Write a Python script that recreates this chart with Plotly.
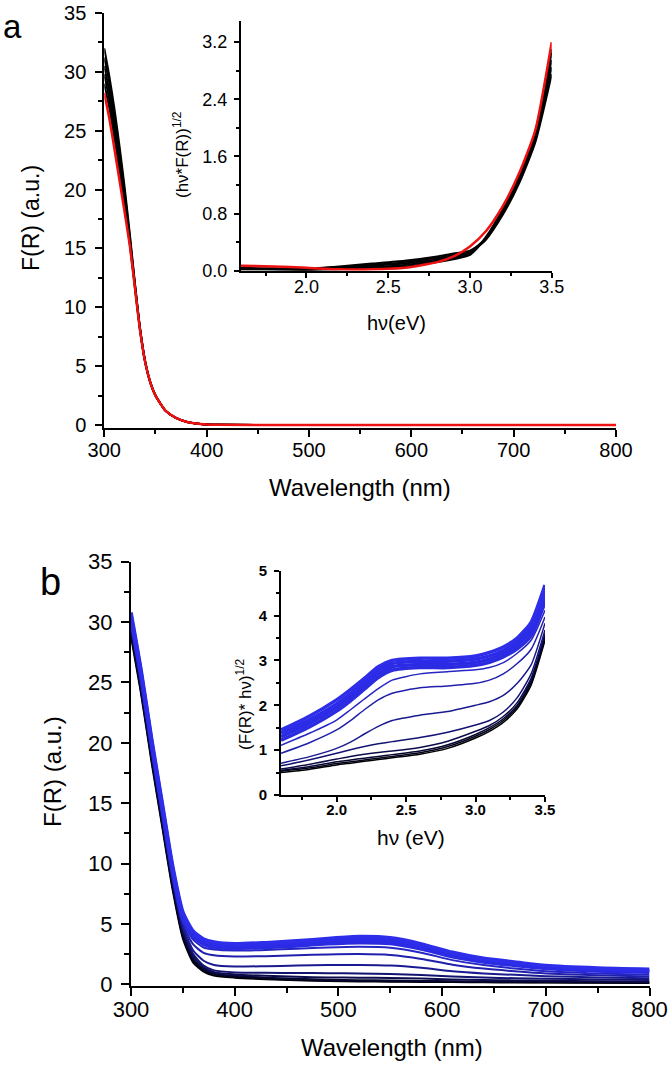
import plotly.graph_objects as go

# ---- panel a, main: F(R) vs wavelength ----
WL_A = [300, 305, 310, 315, 320, 325, 330, 335, 340, 345, 350, 360, 370, 380,
        390, 400, 410, 500, 600, 700, 800]
FR_A_BLACK = [
    [32.0, 29.6, 26.8, 23.6, 20.1, 16.2, 12.0, 8.2, 5.4, 3.6, 2.5, 1.2, 0.6, 0.28, 0.12, 0.05, 0.02, 0, 0, 0, 0],
    [31.2, 29.0, 26.2, 23.1, 19.7, 15.9, 11.9, 8.1, 5.4, 3.6, 2.5, 1.2, 0.6, 0.28, 0.12, 0.05, 0.02, 0, 0, 0, 0],
    [30.5, 28.3, 25.6, 22.6, 19.3, 15.7, 11.8, 8.1, 5.3, 3.6, 2.5, 1.2, 0.6, 0.28, 0.12, 0.05, 0.02, 0, 0, 0, 0],
    [29.8, 27.6, 25.0, 22.0, 18.9, 15.5, 11.7, 8.0, 5.3, 3.6, 2.5, 1.2, 0.6, 0.28, 0.12, 0.05, 0.02, 0, 0, 0, 0],
    [29.0, 26.9, 24.3, 21.5, 18.5, 15.3, 11.6, 8.0, 5.3, 3.6, 2.5, 1.2, 0.6, 0.28, 0.12, 0.05, 0.02, 0, 0, 0, 0],
]
FR_A_RED = [28.2, 26.0, 23.4, 20.7, 18.0, 15.2, 11.6, 8.0, 5.3, 3.6, 2.5, 1.2, 0.6,
            0.28, 0.12, 0.05, 0.02, 0, 0, 0, 0]

# ---- panel a, inset: Tauc plot ----
EV_A = [1.6, 1.8, 2.0, 2.2, 2.4, 2.6, 2.8, 2.9, 3.0, 3.1, 3.2, 3.3, 3.4, 3.5]
TAUC_A_BLACK = [
    [0.04, 0.03, 0.03, 0.06, 0.10, 0.14, 0.20, 0.24, 0.28, 0.45, 0.78, 1.22, 1.80, 2.75],
    [0.03, 0.03, 0.02, 0.05, 0.08, 0.12, 0.18, 0.22, 0.26, 0.44, 0.80, 1.25, 1.85, 2.85],
    [0.03, 0.02, 0.02, 0.04, 0.07, 0.10, 0.16, 0.20, 0.25, 0.45, 0.82, 1.28, 1.90, 2.95],
    [0.02, 0.02, 0.02, 0.03, 0.05, 0.08, 0.14, 0.18, 0.23, 0.46, 0.84, 1.30, 1.93, 3.05],
    [0.02, 0.02, 0.01, 0.02, 0.04, 0.06, 0.12, 0.16, 0.22, 0.48, 0.86, 1.32, 1.95, 3.10],
]
TAUC_A_RED = [0.07, 0.06, 0.04, 0.02, 0.02, 0.04, 0.12, 0.20, 0.34, 0.56, 0.90, 1.36, 1.97, 3.20]

# ---- panel b, main ----
WL_B = [300, 310, 320, 330, 340, 350, 360, 370, 380, 400, 430, 460, 490, 520,
        550, 580, 610, 640, 670, 700, 750, 800]
# drawn bottom (black) to top (bright blue)
FR_B = [
    [28.8, 23.9, 18.3, 13.1, 7.9, 3.8, 1.8, 1.05, 0.72, 0.55, 0.42, 0.33, 0.27, 0.24, 0.22, 0.20, 0.18, 0.16, 0.15, 0.14, 0.12, 0.10],
    [29.0, 24.1, 18.5, 13.3, 8.1, 4.0, 1.95, 1.15, 0.80, 0.62, 0.48, 0.38, 0.32, 0.28, 0.26, 0.23, 0.21, 0.19, 0.18, 0.17, 0.15, 0.13],
    [29.2, 24.3, 18.7, 13.5, 8.3, 4.2, 2.1, 1.25, 0.88, 0.70, 0.55, 0.45, 0.38, 0.34, 0.31, 0.28, 0.25, 0.23, 0.21, 0.20, 0.18, 0.16],
    [29.4, 24.5, 18.9, 13.7, 8.5, 4.4, 2.3, 1.4, 1.0, 0.82, 0.70, 0.62, 0.57, 0.55, 0.52, 0.47, 0.40, 0.36, 0.32, 0.30, 0.25, 0.22],
    [29.6, 24.7, 19.1, 13.9, 8.7, 4.6, 2.5, 1.55, 1.15, 0.98, 0.95, 0.93, 0.92, 0.90, 0.86, 0.76, 0.64, 0.56, 0.50, 0.46, 0.40, 0.35],
    [29.8, 24.9, 19.3, 14.1, 8.9, 4.8, 2.8, 1.95, 1.6, 1.47, 1.50, 1.55, 1.60, 1.60, 1.55, 1.36, 1.08, 0.90, 0.78, 0.67, 0.57, 0.50],
    [29.9, 25.0, 19.4, 14.2, 9.0, 5.0, 3.3, 2.6, 2.4, 2.30, 2.33, 2.40, 2.47, 2.50, 2.42, 2.10, 1.62, 1.30, 1.08, 0.90, 0.75, 0.65],
    [30.0, 25.1, 19.5, 14.3, 9.1, 5.2, 3.7, 3.05, 2.88, 2.80, 2.85, 2.95, 3.05, 3.10, 3.02, 2.62, 2.00, 1.60, 1.30, 1.08, 0.90, 0.80],
    [30.2, 25.3, 19.7, 14.5, 9.3, 5.4, 3.95, 3.3, 3.05, 2.98, 3.05, 3.18, 3.35, 3.45, 3.37, 2.92, 2.28, 1.85, 1.55, 1.30, 1.10, 1.00],
    [30.4, 25.5, 19.9, 14.7, 9.5, 5.6, 4.1, 3.45, 3.2, 3.10, 3.18, 3.32, 3.50, 3.62, 3.52, 3.05, 2.40, 1.95, 1.65, 1.38, 1.18, 1.08],
    [30.6, 25.7, 20.1, 14.9, 9.7, 5.8, 4.25, 3.6, 3.35, 3.22, 3.30, 3.45, 3.65, 3.78, 3.68, 3.20, 2.52, 2.05, 1.75, 1.47, 1.27, 1.17],
    [30.8, 25.9, 20.3, 15.1, 9.9, 6.0, 4.4, 3.75, 3.5, 3.35, 3.45, 3.60, 3.80, 3.95, 3.85, 3.35, 2.65, 2.15, 1.85, 1.55, 1.35, 1.25],
]

# ---- panel b, inset ----
EV_B = [1.6, 1.8, 2.0, 2.1, 2.2, 2.3, 2.4, 2.6, 2.8, 3.0, 3.1, 3.2, 3.3, 3.4, 3.5]
TAUC_B = [
    [0.50, 0.57, 0.67, 0.71, 0.75, 0.79, 0.83, 0.91, 1.04, 1.27, 1.42, 1.62, 1.92, 2.45, 3.45],
    [0.53, 0.60, 0.70, 0.74, 0.78, 0.82, 0.86, 0.94, 1.08, 1.31, 1.46, 1.66, 1.96, 2.50, 3.50],
    [0.55, 0.63, 0.74, 0.78, 0.82, 0.86, 0.90, 0.98, 1.12, 1.35, 1.50, 1.70, 2.00, 2.55, 3.55],
    [0.58, 0.68, 0.80, 0.86, 0.91, 0.95, 0.98, 1.06, 1.20, 1.42, 1.55, 1.75, 2.06, 2.60, 3.60],
    [0.65, 0.78, 0.93, 1.01, 1.08, 1.14, 1.19, 1.28, 1.40, 1.56, 1.66, 1.85, 2.17, 2.70, 3.68],
    [0.71, 0.85, 1.04, 1.18, 1.36, 1.53, 1.66, 1.78, 1.86, 2.00, 2.08, 2.22, 2.49, 2.90, 3.83],
    [0.93, 1.16, 1.45, 1.66, 1.90, 2.12, 2.27, 2.39, 2.43, 2.49, 2.56, 2.70, 2.93, 3.25, 3.97],
    [1.11, 1.37, 1.67, 1.90, 2.14, 2.37, 2.56, 2.70, 2.75, 2.79, 2.84, 2.95, 3.16, 3.45, 4.12],
    [1.22, 1.51, 1.87, 2.10, 2.36, 2.62, 2.78, 2.84, 2.84, 2.89, 2.96, 3.08, 3.26, 3.55, 4.30],
    [1.30, 1.59, 1.95, 2.18, 2.44, 2.70, 2.86, 2.91, 2.91, 2.96, 3.03, 3.15, 3.34, 3.65, 4.42],
    [1.38, 1.67, 2.03, 2.26, 2.52, 2.78, 2.93, 2.98, 2.98, 3.03, 3.10, 3.22, 3.42, 3.75, 4.55],
    [1.45, 1.75, 2.12, 2.35, 2.60, 2.86, 3.00, 3.05, 3.05, 3.10, 3.18, 3.30, 3.50, 3.85, 4.68],
]
COLORS_B = ["#000000", "#03031a", "#06062e", "#0c0c4c", "#131372", "#1a1a90",
            "#2020ac", "#2626c4", "#2b2be0", "#2b2be6", "#2c2ce8", "#2e2eea"]
WIDTH_B = [2, 2, 2, 2, 2, 2, 2, 2, 3.5, 3.5, 3.5, 3.5]
WIDTH_B_INSET = [1.5, 1.5, 1.5, 1.5, 1.5, 1.5, 1.5, 1.5, 3.5, 3.5, 3.5, 3.5]

W, H = 672, 1066
FONT = "Liberation Sans"


def px(x):
    return x / W


def py(y):
    return 1 - y / H


def axis_style(size, ticklen, minor_len, dtick, minor_dtick, rng, domain, anchor,
               bold=False, fmt=None, tick0=None, standoff=0):
    d = dict(
        range=rng, domain=domain, anchor=anchor, automargin=False,
        showline=True, linecolor="black", linewidth=2,
        ticks="outside", ticklen=ticklen, tickwidth=1.5, tickcolor="black",
        dtick=dtick, showgrid=False, zeroline=False, ticklabelstandoff=standoff,
        minor=dict(ticks="outside", ticklen=minor_len, tickwidth=1.5,
                   tickcolor="black", dtick=minor_dtick, showgrid=False),
        tickfont=dict(family=FONT, size=size, color="black",
                      weight="bold" if bold else "normal"),
    )
    if fmt:
        d["tickformat"] = fmt
    if tick0 is not None:
        d["tick0"] = tick0
    return d


fig = go.Figure()

for ys in FR_A_BLACK:
    fig.add_trace(go.Scatter(x=WL_A, y=ys, mode="lines", xaxis="x", yaxis="y",
                             line=dict(color="black", width=2, shape="spline", smoothing=0.6)))
fig.add_trace(go.Scatter(x=WL_A, y=FR_A_RED, mode="lines", xaxis="x", yaxis="y",
                         line=dict(color="#ee1111", width=2.5, shape="spline", smoothing=0.6)))

for ys in TAUC_A_BLACK:
    fig.add_trace(go.Scatter(x=EV_A, y=ys, mode="lines", xaxis="x2", yaxis="y2",
                             line=dict(color="black", width=2, shape="spline", smoothing=0.6)))
fig.add_trace(go.Scatter(x=EV_A, y=TAUC_A_RED, mode="lines", xaxis="x2", yaxis="y2",
                         line=dict(color="#ee1111", width=2.5, shape="spline", smoothing=0.6)))

for ys, c, w in zip(FR_B, COLORS_B, WIDTH_B):
    fig.add_trace(go.Scatter(x=WL_B, y=ys, mode="lines", xaxis="x3", yaxis="y3",
                             line=dict(color=c, width=w, shape="spline", smoothing=0.6)))

for ys, c, w in zip(TAUC_B, COLORS_B, WIDTH_B_INSET):
    fig.add_trace(go.Scatter(x=EV_B, y=ys, mode="lines", xaxis="x4", yaxis="y4",
                             line=dict(color=c, width=w, shape="spline", smoothing=0.6)))

fig.update_layout(
    width=W, height=H, showlegend=False, template="none",
    margin=dict(l=0, r=0, t=0, b=0),
    paper_bgcolor="white", plot_bgcolor="rgba(0,0,0,0)",
    font=dict(family=FONT, color="black"),
    xaxis=axis_style(20, 7, 4, 100, 50, [300, 800], [px(104.3), px(616)], "y", standoff=-4),
    yaxis=axis_style(20, 7, 4, 5, 2.5, [-0.23, 35], [py(427.7), py(13)], "x", standoff=5),
    xaxis2=axis_style(18, 5, 3, 0.5, 0.25, [1.6, 3.5], [px(241), px(551.7)], "y2",
                      fmt=".1f", tick0=2.0, standoff=-6),
    yaxis2=axis_style(18, 5, 3, 0.8, 0.4, [0, 3.5], [py(270.7), py(20.7)], "x2",
                      fmt=".1f", standoff=3),
    xaxis3=axis_style(22, 8, 5, 100, 50, [300, 800], [px(131), px(649.5)], "y3", standoff=-5),
    yaxis3=axis_style(22, 8, 5, 5, 2.5, [-0.1, 35], [py(985.5), py(561.7)], "x3", standoff=4),
    xaxis4=axis_style(15, 5, 3, 0.5, 0.25, [1.6, 3.5], [px(281), px(545)], "y4",
                      bold=True, fmt=".1f", tick0=2.0, standoff=-5),
    yaxis4=axis_style(15, 5, 3, 1, 0.5, [0, 5], [py(795), py(570.7)], "x4",
                      bold=True, standoff=4),
)


def label(text, x, y, size, angle=0):
    fig.add_annotation(text=text, x=px(x), y=py(y), xref="paper", yref="paper",
                       showarrow=False, textangle=angle, xanchor="center",
                       yanchor="middle", font=dict(family=FONT, size=size, color="black"))


label("a", 12, 26, 33)
label("b", 50, 582, 38)
label("F(R) (a.u.)", 31, 218, 23, -90)
label("Wavelength (nm)", 360, 487, 24)
label("hν(eV)", 396, 323, 20)
label("(hν*F(R))<sup>1/2</sup>", 181, 155, 17, -90)
label("F(R) (a.u.)", 52, 772, 24, -90)
label("Wavelength (nm)", 392, 1047, 24)
label("hν (eV)", 411, 837, 21)
label("(F(R)* hν)<sup>1/2</sup>", 244, 704, 17, -90)

# the page body has an 8px default margin; drop it so the figure fills the window
fig.write_html("out.html", config={"displayModeBar": False},
               post_script="document.body.style.margin='0';document.body.style.padding='0';")
